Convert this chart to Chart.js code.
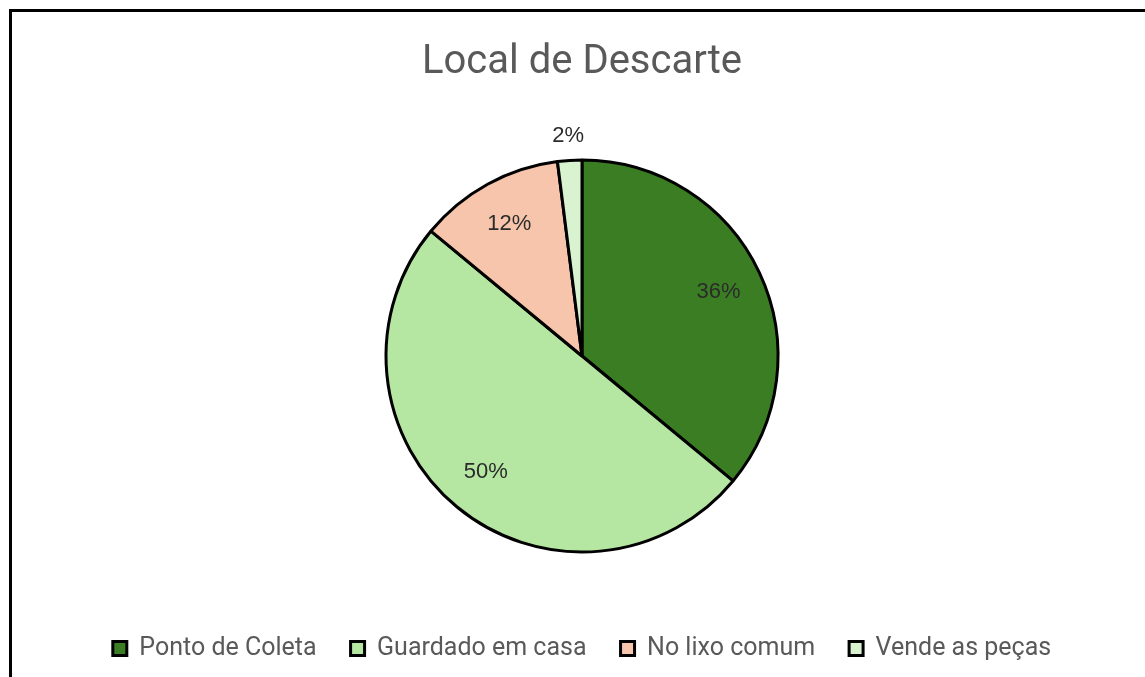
<!DOCTYPE html>
<html>
<head>
<meta charset="utf-8">
<script src="https://cdn.jsdelivr.net/npm/chart.js@4.4.1/dist/chart.umd.min.js"></script>
<style>
  html, body { margin: 0; padding: 0; background: #fff; }
  #wrap { position: relative; width: 1145px; height: 677px; overflow: hidden; }
  #frame { position: absolute; left: 9px; top: 9px; width: 1200px; height: 720px; border: 3px solid #000; box-sizing: border-box; }
  canvas { position: absolute; left: 0; top: 0; }
</style>
</head>
<body>
<div id="wrap">
  <div id="frame"></div>
  <canvas id="myChart" width="1145" height="677"></canvas>
</div>
<script>
const categories = ["Ponto de Coleta", "Guardado em casa", "No lixo comum", "Vende as peças"];
const values = [36, 50, 12, 2];
const colors = ['#3B7D23', '#B5E6A2', '#F6C5AB', '#D9F2D0'];

const ctx = document.getElementById('myChart').getContext('2d');

// percent labels, small slices go outside the pie
const pctLabels = {
    id: 'pctLabels',
    afterDatasetsDraw(chart) {
        const c = chart.ctx;
        const meta = chart.getDatasetMeta(0);
        const total = values.reduce((a, b) => a + b, 0);
        c.save();
        c.font = '22px "Liberation Sans", Arial, sans-serif';
        c.fillStyle = '#2b2b2b';
        c.textAlign = 'center';
        c.textBaseline = 'middle';
        meta.data.forEach((arc, i) => {
            const p = arc.getProps(['x', 'y', 'startAngle', 'endAngle', 'outerRadius'], true);
            const mid = (p.startAngle + p.endAngle) / 2;
            const share = values[i] / total;
            const r = share < 0.05 ? p.outerRadius + 24 : p.outerRadius * 0.77;
            c.fillText(Math.round(share * 100) + '%', p.x + Math.cos(mid) * r, p.y + Math.sin(mid) * r);
        });
        c.restore();
    }
};

const myChart = new Chart(ctx, {
    type: 'pie',
    data: {
        labels: categories,
        datasets: [{
            data: values,
            backgroundColor: colors,
            borderColor: '#000',
            borderWidth: 3,
            hoverOffset: 0
        }]
    },
    options: {
        responsive: false,
        animation: false,
        radius: 196,
        layout: {padding: {left: 19, top: 0, bottom: 6}},
        plugins: {
            tooltip: {enabled: false},
            title: {
                display: true,
                text: "Local de Descarte",
                color: '#595959',
                font: {family: 'Roboto', size: 40, weight: 'normal'},
                padding: {top: 39, bottom: 23}
            },
            legend: {
                position: 'bottom',
                labels: {
                    color: '#595959',
                    font: {family: 'Roboto', size: 25},
                    boxWidth: 14,
                    boxHeight: 14,
                    padding: 34
                }
            }
        }
    },
    plugins: [pctLabels]
});
</script>
</body>
</html>
